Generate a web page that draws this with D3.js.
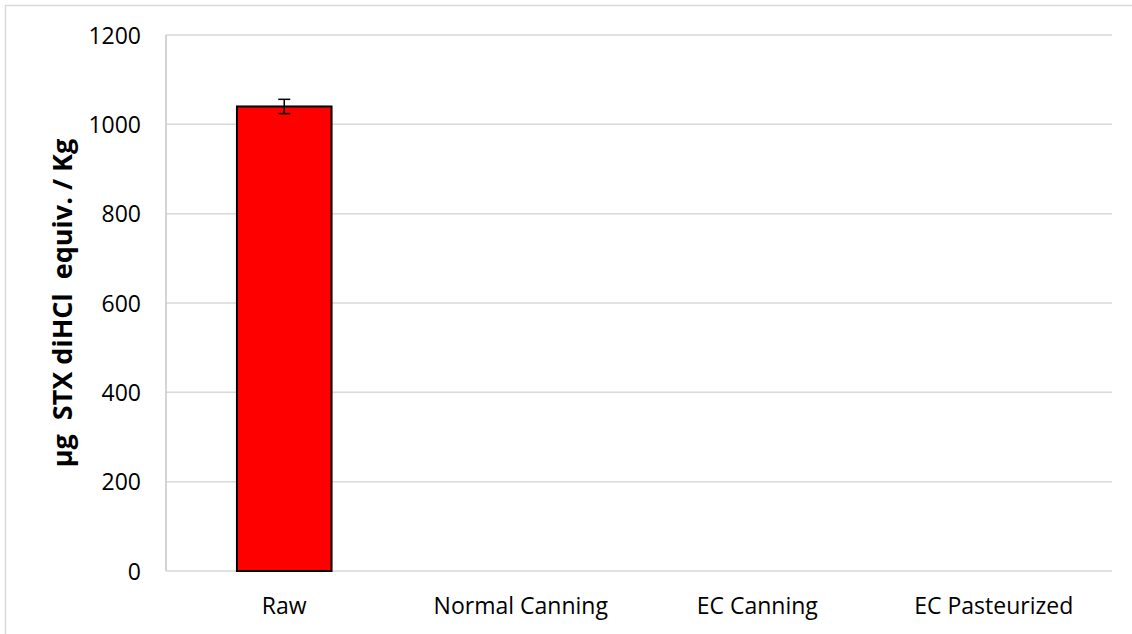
<!DOCTYPE html>
<html>
<head>
<meta charset="utf-8">
<script src="https://cdn.jsdelivr.net/npm/d3@7"></script>
<style>
  html, body { margin: 0; padding: 0; background: #fff; }
  svg { display: block; }
</style>
</head>
<body>
<svg id="chart" width="1132" height="634"></svg>
<script>
const categories = ["Raw", "Normal Canning", "EC Canning", "EC Pasteurized"];
const values = [1040, 0, 0, 0];
const errors = [16, null, null, null];
const yTicks = [0, 200, 400, 600, 800, 1000, 1200];
const yTitle = "µg  STX diHCl  equiv. / Kg";

const W = 1132, H = 634;
const margin = { left: 166, right: 20, top: 35, bottom: 63 };
const svg = d3.select("#chart");
const font = "'Open Sans', 'Noto Sans', sans-serif";

// outer chart border
svg.append("rect")
  .attr("x", 5.5).attr("y", 5.5)
  .attr("width", W).attr("height", H)
  .attr("fill", "none").attr("stroke", "#d9d9d9").attr("stroke-width", 1.5);

const x = d3.scaleBand()
  .domain(categories)
  .range([margin.left, 1112])
  .paddingInner(0.6).paddingOuter(0.3);

const y = d3.scaleLinear().domain([0, 1200]).range([571, margin.top]);

// gridlines
svg.append("g")
  .selectAll("line")
  .data(yTicks)
  .join("line")
  .attr("x1", margin.left).attr("x2", 1112)
  .attr("y1", d => y(d)).attr("y2", d => y(d))
  .attr("stroke", "#d9d9d9").attr("stroke-width", 1.5);

// y axis line
svg.append("line")
  .attr("x1", margin.left).attr("x2", margin.left)
  .attr("y1", y(1200)).attr("y2", y(0))
  .attr("stroke", "#c6c6c6").attr("stroke-width", 1.5);

// y axis labels via d3 axis
const yAxis = svg.append("g")
  .attr("transform", `translate(${margin.left},0)`)
  .call(d3.axisLeft(y).tickValues(yTicks).tickSize(0).tickPadding(25).tickFormat(d3.format("d")));
yAxis.select(".domain").remove();
yAxis.selectAll("text")
  .attr("font-family", font).attr("font-size", 23).attr("fill", "#000")
  .attr("dy", "0.36em");

// x axis labels
const xAxis = svg.append("g")
  .attr("transform", `translate(0,${y(0)})`)
  .call(d3.axisBottom(x).tickSize(0).tickPadding(0));
xAxis.select(".domain").remove();
xAxis.selectAll("text")
  .attr("font-family", font).attr("font-size", 23).attr("fill", "#000")
  .attr("dy", null).attr("y", 43);

// bars
svg.append("g")
  .selectAll("rect")
  .data(categories.map((c, i) => ({ c, v: values[i] })).filter(d => d.v > 0))
  .join("rect")
  .attr("x", d => x(d.c)).attr("width", x.bandwidth())
  .attr("y", d => y(d.v)).attr("height", d => y(0) - y(d.v))
  .attr("fill", "#ff0000").attr("stroke", "#000").attr("stroke-width", 2);

// error bars
const errData = categories.map((c, i) => ({ c, v: values[i], e: errors[i] })).filter(d => d.e != null);
const eg = svg.append("g").attr("stroke", "#000").attr("stroke-width", 1.5);
errData.forEach(d => {
  const cx = x(d.c) + x.bandwidth() / 2;
  eg.append("line").attr("x1", cx).attr("x2", cx).attr("y1", y(d.v + d.e)).attr("y2", y(d.v - d.e));
  eg.append("line").attr("x1", cx - 6).attr("x2", cx + 6).attr("y1", y(d.v + d.e)).attr("y2", y(d.v + d.e));
  eg.append("line").attr("x1", cx - 6).attr("x2", cx + 6).attr("y1", y(d.v - d.e)).attr("y2", y(d.v - d.e));
});

// y title
svg.append("text")
  .attr("transform", `translate(72,${(y(0) + y(1200)) / 2}) rotate(-90)`)
  .attr("text-anchor", "middle")
  .attr("font-family", font).attr("font-size", 27).attr("font-weight", "bold")
  .attr("fill", "#000")
  .attr("xml:space", "preserve")
  .style("white-space", "pre")
  .text(yTitle);
</script>
</body>
</html>
